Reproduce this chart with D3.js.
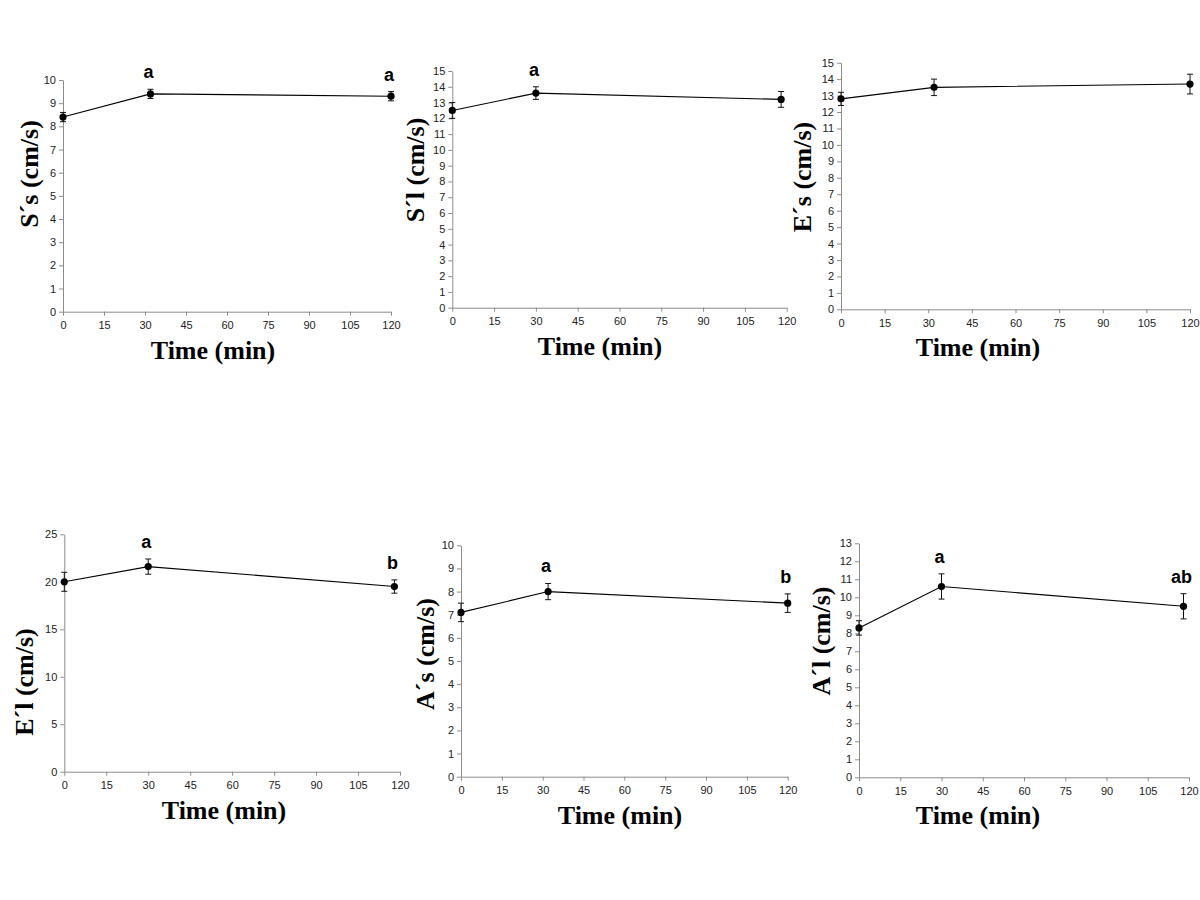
<!DOCTYPE html>
<html>
<head>
<meta charset="utf-8">
<script src="https://cdn.jsdelivr.net/npm/d3@7"></script>
<style>
  html, body { margin: 0; padding: 0; background: #fff; }
  svg { display: block; }
  .tick text { font-family: "Liberation Sans", Arial, sans-serif; font-size: 11px; fill: #222; }
  .domain, .tick line { stroke: #8c8c8c; stroke-width: 1; }
</style>
</head>
<body>
<svg id="chart" width="1200" height="900"></svg>
<script>
// ---------- DATA ----------
const xTicks = [0, 15, 30, 45, 60, 75, 90, 105, 120];
const xLabel = "Time (min)";
const yLabels = ["S´s (cm/s)", "S´l (cm/s)", "E´s (cm/s)", "E´l (cm/s)", "A´s (cm/s)", "A´l (cm/s)"];
const yMaxes = [10, 15, 15, 25, 10, 13];
const yTickSteps = [1, 1, 1, 5, 1, 1];

const ssTime = [0, 32, 120];
const ssMean = [8.4, 9.4, 9.3];
const ssErr  = [0.2, 0.2, 0.2];
const ssLetters = ["", "a", "a"];

const slTime = [0, 30, 118];
const slMean = [12.5, 13.6, 13.2];
const slErr  = [0.5, 0.4, 0.5];
const slLetters = ["", "a", ""];

const esTime = [0, 32, 120];
const esMean = [12.8, 13.5, 13.7];
const esErr  = [0.4, 0.5, 0.6];
const esLetters = ["", "", ""];

const elTime = [0, 30, 118];
const elMean = [20.0, 21.6, 19.5];
const elErr  = [1.0, 0.8, 0.7];
const elLetters = ["", "a", "b"];

const asTime = [0, 32, 120];
const asMean = [7.1, 8.0, 7.5];
const asErr  = [0.4, 0.35, 0.4];
const asLetters = ["", "a", "b"];

const alTime = [0, 30, 118];
const alMean = [8.3, 10.6, 9.5];
const alErr  = [0.4, 0.7, 0.7];
const alLetters = ["", "a", "ab"];

// ---------- LAYOUT (pixel frames of each panel) ----------
const frames = [
  { left: 63,    right: 391,   top: 80,    bottom: 311.7, ylx: 31,  yly: 174, xlx: 213 },
  { left: 452.3, right: 786.7, top: 71,    bottom: 307.7, ylx: 417, yly: 170, xlx: 600 },
  { left: 841,   right: 1190,  top: 62.7,  bottom: 309.3, ylx: 804, yly: 177, xlx: 978 },
  { left: 64.3,  right: 400,   top: 534.3, bottom: 771.7, ylx: 26,  yly: 682, xlx: 224 },
  { left: 461,   right: 787.7, top: 545.3, bottom: 776.7, ylx: 427, yly: 654, xlx: 620 },
  { left: 859,   right: 1189,  top: 543.3, bottom: 777.3, ylx: 823, yly: 641, xlx: 978 }
];

const series = [
  { t: ssTime, m: ssMean, e: ssErr, l: ssLetters },
  { t: slTime, m: slMean, e: slErr, l: slLetters },
  { t: esTime, m: esMean, e: esErr, l: esLetters },
  { t: elTime, m: elMean, e: elErr, l: elLetters },
  { t: asTime, m: asMean, e: asErr, l: asLetters },
  { t: alTime, m: alMean, e: alErr, l: alLetters }
];

const svg = d3.select("#chart");

series.forEach((s, i) => {
  const f = frames[i];
  const x = d3.scaleLinear().domain([0, 120]).range([f.left, f.right]);
  const y = d3.scaleLinear().domain([0, yMaxes[i]]).range([f.bottom, f.top]);
  const g = svg.append("g");

  const yTicks = d3.range(0, yMaxes[i] + 0.001, yTickSteps[i]);

  g.append("g")
    .attr("transform", `translate(0,${f.bottom})`)
    .call(d3.axisBottom(x).tickValues(xTicks).tickSize(4).tickSizeOuter(0).tickPadding(6));

  g.append("g")
    .attr("transform", `translate(${f.left},0)`)
    .call(d3.axisLeft(y).tickValues(yTicks).tickFormat(d3.format("d")).tickSize(4).tickSizeOuter(0).tickPadding(3));

  const pts = s.t.map((t, k) => ({ t: t, m: s.m[k], e: s.e[k], l: s.l[k] }));

  // connecting line
  g.append("path")
    .datum(pts)
    .attr("fill", "none")
    .attr("stroke", "#000")
    .attr("stroke-width", 1.1)
    .attr("d", d3.line().x(d => x(d.t)).y(d => y(d.m)));

  // error bars
  const eb = g.append("g").attr("stroke", "#111").attr("stroke-width", 1);
  eb.selectAll("line.v").data(pts).join("line")
    .attr("x1", d => x(d.t)).attr("x2", d => x(d.t))
    .attr("y1", d => y(d.m - d.e)).attr("y2", d => y(d.m + d.e));
  eb.selectAll("line.top").data(pts).join("line")
    .attr("x1", d => x(d.t) - 3).attr("x2", d => x(d.t) + 3)
    .attr("y1", d => y(d.m + d.e)).attr("y2", d => y(d.m + d.e));
  eb.selectAll("line.bot").data(pts).join("line")
    .attr("x1", d => x(d.t) - 3).attr("x2", d => x(d.t) + 3)
    .attr("y1", d => y(d.m - d.e)).attr("y2", d => y(d.m - d.e));

  // markers
  g.selectAll("circle").data(pts).join("circle")
    .attr("cx", d => x(d.t)).attr("cy", d => y(d.m))
    .attr("r", 3.6).attr("fill", "#000");

  // significance letters
  g.selectAll("text.sig").data(pts.filter(d => d.l)).join("text")
    .attr("class", "sig")
    .attr("x", d => x(d.t) - 2)
    .attr("y", d => y(d.m + d.e) - 11)
    .attr("text-anchor", "middle")
    .attr("font-family", "Liberation Sans, Arial, sans-serif")
    .attr("font-weight", "bold")
    .attr("font-size", 18)
    .attr("fill", "#000")
    .text(d => d.l);

  // x axis title
  g.append("text")
    .attr("x", f.xlx).attr("y", f.bottom + 47)
    .attr("text-anchor", "middle")
    .attr("font-family", "Liberation Serif, Times New Roman, serif")
    .attr("font-weight", "bold")
    .attr("font-size", 26)
    .attr("fill", "#000")
    .text(xLabel);

  // y axis title
  g.append("text")
    .attr("transform", `translate(${f.ylx},${f.yly}) rotate(-90)`)
    .attr("text-anchor", "middle")
    .attr("dy", "0.25em")
    .attr("font-family", "Liberation Serif, Times New Roman, serif")
    .attr("font-weight", "bold")
    .attr("font-size", 26)
    .attr("fill", "#000")
    .text(yLabels[i]);
});
</script>
</body>
</html>
